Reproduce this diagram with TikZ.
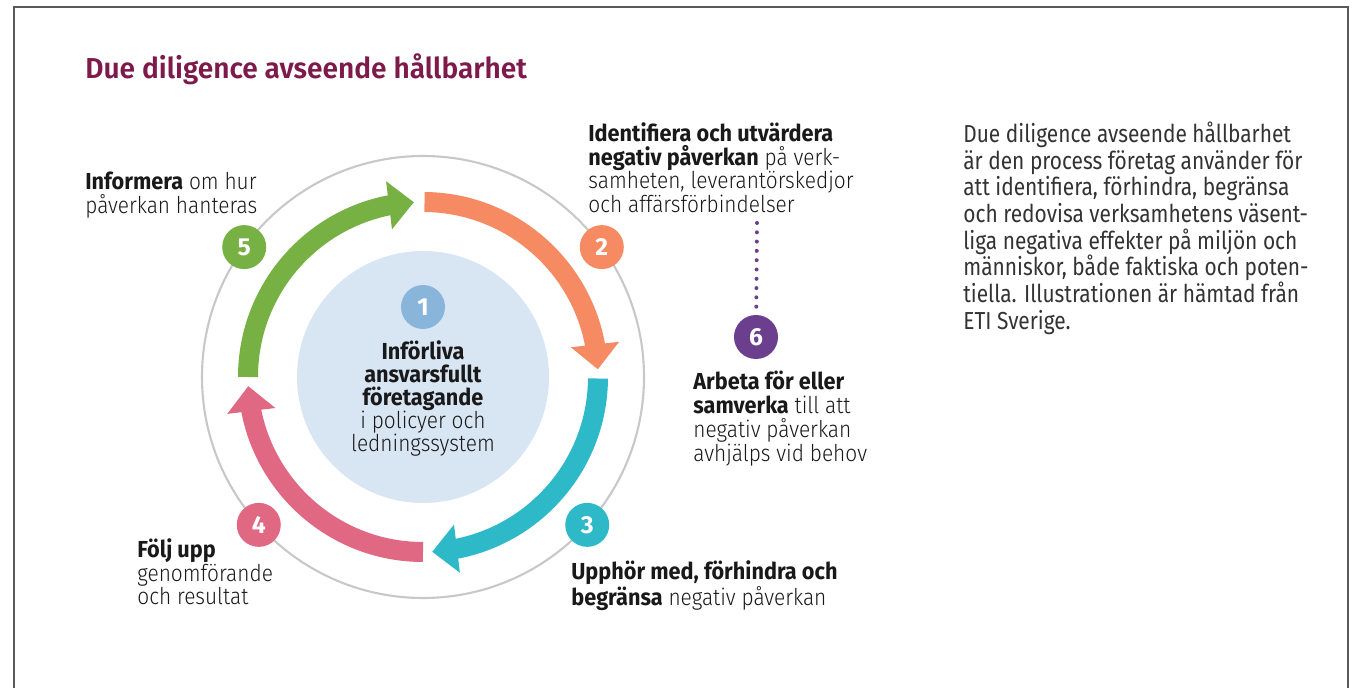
\documentclass[tikz,border=0pt]{standalone}
\usepackage{fontspec}
\setmainfont{Fira Sans Light}[BoldFont={Fira Sans Bold}, FakeStretch=0.9, BoldFeatures={FakeStretch=0.935}]
\newfontfamily\titlefont{Fira Sans SemiBold}[FakeStretch=0.975]
\newfontfamily\parfont{Fira Sans}[FakeStretch=0.85]
\newfontfamily\numfont{Fira Sans Bold}
\usetikzlibrary{arrows.meta,bending,positioning,calc}
\definecolor{titlered}{HTML}{7D1A4B}
\definecolor{stepgreen}{HTML}{77B043}
\definecolor{steporange}{HTML}{F58A63}
\definecolor{stepteal}{HTML}{2EB9C8}
\definecolor{steppink}{HTML}{E06882}
\definecolor{stepblue}{HTML}{8AB5DB}
\definecolor{stepviolet}{HTML}{6B3F8E}
\definecolor{corefill}{HTML}{D8E6F4}
\definecolor{ringgray}{HTML}{C8C8C8}
\definecolor{textgray}{HTML}{333333}
\tikzset{%
	numdot/.style   = {circle, fill=#1, text=white, minimum size=0.88cm, inner sep=0pt, font=\numfont\fontsize{14}{14}\selectfont},
	steptext/.style = {anchor=north west, inner sep=0pt, align=left, text=black!90, font=\fontsize{13.2}{13.6}\selectfont},
	coretext/.style = {anchor=north, inner sep=0pt, align=center, text=black!90, font=\fontsize{13.2}{13.2}\selectfont},
	partext/.style  = {anchor=north west, inner sep=0pt, align=left, text=textgray, font=\parfont\fontsize{14}{15.2}\selectfont},
	band/.style     = {line width=0.4cm, -{Triangle[length=0.5cm, width=0.94cm]}}, % cycle arrow
	dotline/.style  = {stepviolet, line width=0.08cm, line cap=round, dash pattern=on 0pt off 0.186cm}
}

\begin{document}
\begin{tikzpicture}[x=0.02cm, y=-0.02cm]
	\useasboundingbox (0,0) rectangle (1355,688);
	\draw[black!65, line width=0.8pt] (14,688) -- (14,7) -- (1348,7) -- (1348,688);
	\coordinate (c) at (423,377);

	% Drawing the rings
	\draw[ringgray, line width=1.2pt] (c) circle[radius=221];
	\fill[corefill] (c) circle[radius=126];

	% Drawing the cycle arrows
	\draw[band, steporange] (c) ++(-89.5:175) arc[start angle=-89.5, end angle=-2.5, radius=175];
	\draw[band, stepteal]   (c) ++(0.5:175)   arc[start angle=0.5,   end angle=87,   radius=175];
	\draw[band, steppink]   (c) ++(90:175)    arc[start angle=90,    end angle=177,  radius=175];
	\draw[band, stepgreen]  (c) ++(180:175)   arc[start angle=180,   end angle=267,  radius=175];

	% Drawing the numbers and texts
	\draw
	node [anchor=base west, inner sep=0pt, text=titlered, font=\titlefont\fontsize{16.4}{16.4}\selectfont] (title) at (85,79) {Due diligence avseende hållbarhet}
	node [numdot=stepblue] (n1) at (423,307) {1}
	node [numdot=steporange] (n2) at ($(c)+(-36:221)$) {2}
	node [numdot=stepteal] (n3) at ($(c)+(42:221)$) {3}
	node [numdot=steppink] (n4) at ($(c)+(138:221)$) {4}
	node [numdot=stepgreen] (n5) at ($(c)+(-144:221)$) {5}
	node [numdot=stepviolet] (n6) at (756,337) {6}
	node [coretext] (t1) at (423,340) {\textbf{Införliva}\\\textbf{ansvarsfullt}\\\textbf{företagande}\\i policyer och\\ledningssystem}
	node [steptext] (t2) at (588,122) {\textbf{Identifiera och utvärdera}\\\textbf{negativ påverkan} på verk-\\samheten, leverantörskedjor\\och affärsförbindelser}
	node [steptext] (t3) at (571,560) {\textbf{Upphör med, förhindra och}\\\textbf{begränsa} negativ påverkan}
	node [steptext] (t4) at (137,538) {\textbf{Följ upp}\\genomförande\\och resultat}
	node [steptext] (t5) at (85,172) {\textbf{Informera} om hur\\påverkan hanteras}
	node [steptext] (t6) at (693,371) {\textbf{Arbeta för eller}\\\textbf{samverka} till att\\negativ påverkan\\avhjälps vid behov}
	node [partext] (info) at (963,121.5) {Due diligence avseende hållbarhet\\är den process företag använder för\\att identifiera, förhindra, begränsa\\och redovisa verksamhetens väsent-\\liga negativa effekter på miljön och\\människor, både faktiska och poten-\\tiella. Illustrationen är hämtad från\\ETI Sverige.}
	;

	% Drawing the dotted link
	\coordinate (dottop) at (757,223);
	\draw[dotline, shorten >=0.11cm] (dottop) -- (n6);
\end{tikzpicture}
\end{document}
